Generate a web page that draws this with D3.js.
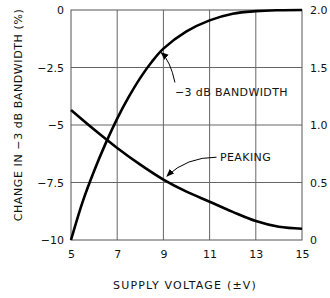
<!DOCTYPE html>
<html>
<head>
<meta charset="utf-8">
<script src="https://cdn.jsdelivr.net/npm/d3@7"></script>
<style>
  body { margin: 0; background: #fff; }
  text { font-family: "DejaVu Sans", sans-serif; fill: #111; }
</style>
</head>
<body>
<div id="chart"></div>
<script>
// chart size
var svgWidth = 330;
var svgHeight = 298;

var margin = { top: 10, right: 28, bottom: 58, left: 71 };
var width = 302 - margin.left;
var height = 240 - margin.top;

// data
var voltage = [5, 5.5, 6, 6.5, 7, 7.5, 8, 8.5, 9, 10, 11, 12, 13, 14, 15];
var bandwidth = [-10, -8.35, -7.0, -5.8, -4.72, -3.78, -2.95, -2.25, -1.68, -0.93, -0.45, -0.16, -0.05, -0.01, 0];
var peakVolt = [5, 6, 7, 8, 9, 10, 11, 12, 13, 14, 15];
var peaking = [1.13, 0.96, 0.8, 0.655, 0.525, 0.42, 0.333, 0.245, 0.165, 0.115, 0.098];

var xTicks = [5, 7, 9, 11, 13, 15];
var leftTicks = [0, -2.5, -5, -7.5, -10];
var leftLabels = ["0", "\u22122.5", "\u22125", "\u22127.5", "\u221210"];
var rightTicks = [0, 0.5, 1, 1.5, 2];
var rightLabels = ["0", "0.5", "1.0", "1.5", "2.0"];

var svg = d3.select("#chart")
  .append("svg")
  .attr("width", svgWidth)
  .attr("height", svgHeight);

var chartGroup = svg.append("g")
  .attr("transform", `translate(${margin.left}, ${margin.top})`);

var xScale = d3.scaleLinear().domain([5, 15]).range([0, width]);
var yLeft = d3.scaleLinear().domain([-10, 0]).range([height, 0]);
var yRight = d3.scaleLinear().domain([0, 2]).range([height, 0]);

// grid
chartGroup.selectAll(".vgrid")
  .data(xTicks.slice(1, -1))
  .enter()
  .append("line")
  .attr("x1", d => xScale(d))
  .attr("x2", d => xScale(d))
  .attr("y1", 0)
  .attr("y2", height)
  .attr("stroke", "#666")
  .attr("stroke-width", 1);

chartGroup.selectAll(".hgrid")
  .data(leftTicks.slice(1, -1))
  .enter()
  .append("line")
  .attr("x1", 0)
  .attr("x2", width)
  .attr("y1", d => yLeft(d))
  .attr("y2", d => yLeft(d))
  .attr("stroke", "#666")
  .attr("stroke-width", 1);

chartGroup.append("rect")
  .attr("x", 0)
  .attr("y", 0)
  .attr("width", width)
  .attr("height", height)
  .attr("fill", "none")
  .attr("stroke", "#555")
  .attr("stroke-width", 1);

// axes (labels only)
var bottomAxis = d3.axisBottom(xScale).tickValues(xTicks).tickSize(0).tickPadding(10);
var leftAxis = d3.axisLeft(yLeft).tickValues(leftTicks).tickSize(0).tickPadding(7)
  .tickFormat((d, i) => leftLabels[i]);
var rightAxis = d3.axisRight(yRight).tickValues(rightTicks).tickSize(0).tickPadding(8)
  .tickFormat((d, i) => rightLabels[i]);

chartGroup.append("g")
  .attr("transform", `translate(0, ${height})`)
  .call(bottomAxis);
chartGroup.append("g").call(leftAxis);
chartGroup.append("g")
  .attr("transform", `translate(${width}, 0)`)
  .call(rightAxis);

chartGroup.selectAll(".domain").remove();
chartGroup.selectAll(".tick text")
  .attr("font-family", "DejaVu Sans")
  .attr("font-size", "11px")
  .attr("fill", "#111");

// curves
var bwLine = d3.line()
  .x((d, i) => xScale(voltage[i]))
  .y(d => yLeft(d))
  .curve(d3.curveCatmullRom.alpha(0.5));

var pkLine = d3.line()
  .x((d, i) => xScale(peakVolt[i]))
  .y(d => yRight(d))
  .curve(d3.curveCatmullRom.alpha(0.5));

chartGroup.append("path")
  .attr("d", bwLine(bandwidth))
  .attr("fill", "none")
  .attr("stroke", "#000")
  .attr("stroke-width", 2.6);

chartGroup.append("path")
  .attr("d", pkLine(peaking))
  .attr("fill", "none")
  .attr("stroke", "#000")
  .attr("stroke-width", 2.6);

// annotations
svg.append("defs").append("marker")
  .attr("id", "arrow")
  .attr("viewBox", "0 0 10 10")
  .attr("refX", 9)
  .attr("refY", 5)
  .attr("markerWidth", 8)
  .attr("markerHeight", 8)
  .attr("markerUnits", "userSpaceOnUse")
  .attr("orient", "auto")
  .append("path")
  .attr("d", "M0,1 L10,5 L0,9 Z")
  .attr("fill", "#000");

var bwArrow = d3.path();
bwArrow.moveTo(xScale(9.5), yLeft(-3.15));
bwArrow.quadraticCurveTo(xScale(9.3), yLeft(-2.2), xScale(8.9), yLeft(-1.85));
chartGroup.append("path")
  .attr("d", bwArrow.toString())
  .attr("fill", "none")
  .attr("stroke", "#000")
  .attr("stroke-width", 1)
  .attr("marker-end", "url(#arrow)");

chartGroup.append("text")
  .attr("x", xScale(9.5))
  .attr("y", yLeft(-3.75))
  .attr("font-size", "11px")
  .attr("letter-spacing", "0.4px")
  .text("\u22123 dB BANDWIDTH");

var pkArrow = d3.path();
pkArrow.moveTo(xScale(11.3), yRight(0.72));
pkArrow.quadraticCurveTo(xScale(10), yRight(0.72), xScale(9.15), yRight(0.555));
chartGroup.append("path")
  .attr("d", pkArrow.toString())
  .attr("fill", "none")
  .attr("stroke", "#000")
  .attr("stroke-width", 1)
  .attr("marker-end", "url(#arrow)");

chartGroup.append("text")
  .attr("x", xScale(11.45))
  .attr("y", yRight(0.72) + 4)
  .attr("font-size", "11px")
  .attr("letter-spacing", "0.4px")
  .text("PEAKING");

// axis titles
svg.append("text")
  .attr("x", 185)
  .attr("y", 289)
  .attr("text-anchor", "middle")
  .attr("font-size", "11px")
  .attr("letter-spacing", "1.2px")
  .text("SUPPLY VOLTAGE (\u00b1V)");

svg.append("text")
  .attr("transform", "translate(22, 115) rotate(-90)")
  .attr("text-anchor", "middle")
  .attr("font-size", "11px")
  .attr("letter-spacing", "0.6px")
  .text("CHANGE IN \u22123 dB BANDWIDTH (%)");
</script>
</body>
</html>
